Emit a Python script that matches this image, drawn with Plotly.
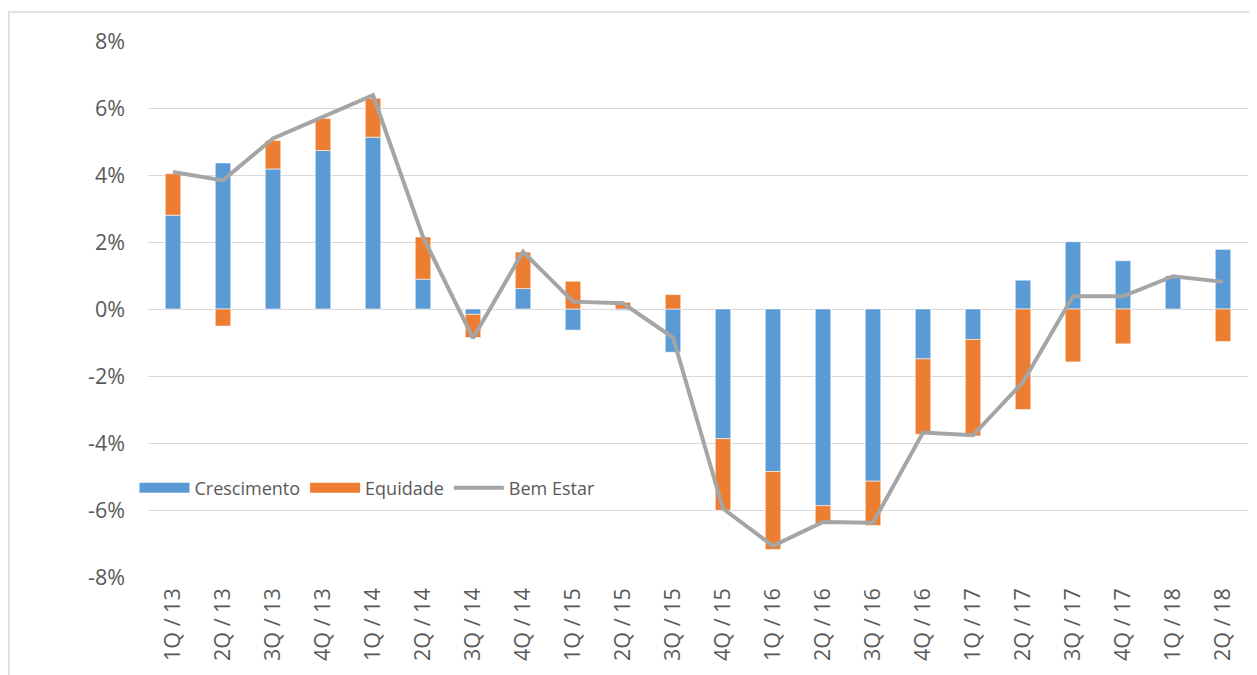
import plotly.graph_objects as go

categories = ["1Q / 13", "2Q / 13", "3Q / 13", "4Q / 13", "1Q / 14", "2Q / 14", "3Q / 14", "4Q / 14",
              "1Q / 15", "2Q / 15", "3Q / 15", "4Q / 15", "1Q / 16", "2Q / 16", "3Q / 16", "4Q / 16",
              "1Q / 17", "2Q / 17", "3Q / 17", "4Q / 17", "1Q / 18", "2Q / 18"]
crescimento = [2.80, 4.36, 4.18, 4.73, 5.13, 0.89, -0.16, 0.61, -0.63, -0.04, -1.29, -3.87,
               -4.85, -5.87, -5.14, -1.49, -0.91, 0.86, 2.01, 1.44, 1.00, 1.78]
equidade = [1.24, -0.51, 0.85, 0.96, 1.16, 1.26, -0.69, 1.09, 0.83, 0.20, 0.43, -2.14,
            -2.33, -0.54, -1.32, -2.25, -2.88, -3.00, -1.58, -1.04, 0.00, -0.97]
bem_estar = [4.09, 3.84, 5.09, 5.75, 6.38, 2.15, -0.87, 1.71, 0.22, 0.17, -0.85, -5.96,
             -7.07, -6.36, -6.38, -3.69, -3.77, -2.18, 0.38, 0.38, 0.98, 0.81]
y_ticks = [-8, -6, -4, -2, 0, 2, 4, 6, 8]
y_tick_labels = ["-8%", "-6%", "-4%", "-2%", "0%", "2%", "4%", "6%", "8%"]

FONT = "Open Sans"
TXT = "#595959"
GRID = "#D9D9D9"
BLUE = "#5B9BD5"
ORANGE = "#ED7D31"
GREY = "#A5A5A5"

fig = go.Figure()
fig.add_trace(go.Bar(x=categories, y=crescimento, name="Crescimento", legendgroup="c", showlegend=False,
                     marker=dict(color=BLUE, line=dict(color="rgba(255,255,255,0.7)", width=0.8))))
fig.add_trace(go.Bar(x=categories, y=equidade, name="Equidade", legendgroup="e", showlegend=False,
                     marker=dict(color=ORANGE, line=dict(color="rgba(255,255,255,0.7)", width=0.8))))
fig.add_trace(go.Scatter(x=categories, y=bem_estar, name="Bem Estar", mode="lines", showlegend=False,
                         legendgroup="b", line=dict(color=GREY, width=4)))
# legend entries (wide swatches like the original)
fig.add_trace(go.Scatter(x=[None], y=[None], name="Crescimento", mode="lines", legendgroup="c",
                         line=dict(color=BLUE, width=11)))
fig.add_trace(go.Scatter(x=[None], y=[None], name="Equidade", mode="lines", legendgroup="e",
                         line=dict(color=ORANGE, width=11)))
fig.add_trace(go.Scatter(x=[None], y=[None], name="Bem Estar", mode="lines", legendgroup="b",
                         line=dict(color=GREY, width=4)))

fig.update_layout(
    width=1249, height=667,
    margin=dict(l=140, r=9, t=33, b=98),
    paper_bgcolor="white", plot_bgcolor="white",
    barmode="relative", bargap=0.69,
    font=dict(family=FONT, color=TXT, size=21),
    legend=dict(orientation="h", x=-0.0123, y=0.166, xanchor="left", yanchor="middle",
                font=dict(size=18, color=TXT, family=FONT), bgcolor="rgba(0,0,0,0)",
                itemwidth=50, traceorder="normal"),
    xaxis=dict(type="category", tickangle=-90, showgrid=False, showline=False, ticks="",
               tickfont=dict(size=21.5, color=TXT, family=FONT), ticklabelstandoff=6),
    yaxis=dict(range=[-8, 8], tickvals=y_ticks, ticktext=y_tick_labels, showgrid=True,
               gridcolor=GRID, gridwidth=1.3, zeroline=True, zerolinecolor=GRID, zerolinewidth=1.3,
               showline=False, ticks="", tickfont=dict(size=21.5, color=TXT, family=FONT),
               ticklabelstandoff=22),
    shapes=[dict(type="rect", xref="paper", yref="paper", x0=-0.1264, x1=1.02, y0=-0.25, y1=1.054,
                 line=dict(color=GRID, width=1.5), fillcolor="rgba(0,0,0,0)", layer="below")],
)

fig.write_html("out.html")
